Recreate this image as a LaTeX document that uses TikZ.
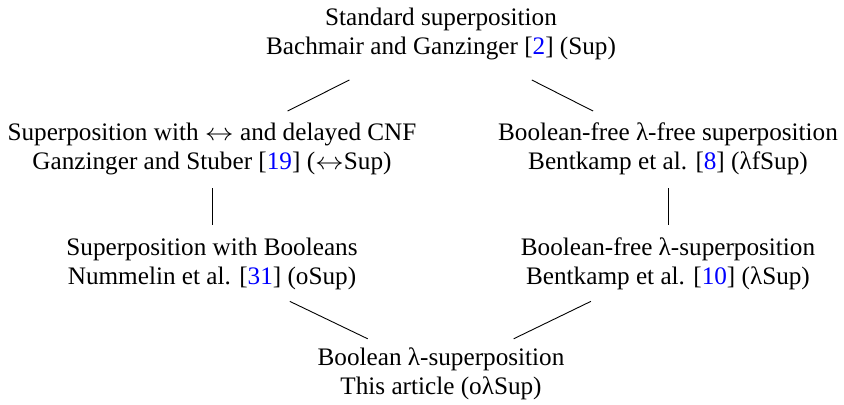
\documentclass[tikz,border=0pt]{standalone}
\usepackage{fontspec}
\setmainfont{Liberation Serif}
\usetikzlibrary{calc}
\begin{document}
\begin{tikzpicture}[x=0.5pt,y=-0.5pt,
  lbl/.style={align=center,inner sep=0pt,font=\fontsize{12.6}{14.5}\selectfont},
  conn/.style={line width=0.45pt}]
\useasboundingbox (0,0) rectangle (844,405);
\newcommand{\cit}[1]{[\textcolor{blue}{#1}]}
\newcommand{\lra}{\scalebox{1.2}[1]{$\leftrightarrow$}}
\node[lbl] (top) at (441,34) {Standard superposition\\Bachmair and Ganzinger \cit{2} (Sup)};
\node[lbl] (lm) at (212,149) {Superposition with \lra\ and delayed CNF\\Ganzinger and Stuber \cit{19} (\lra Sup)};
\node[lbl] (rm) at (668,149) {Boolean-free λ-free superposition\\Bentkamp et al. \cit{8} (λfSup)};
\node[lbl] (ll) at (212,264) {Superposition with Booleans\\Nummelin et al. \cit{31} (oSup)};
\node[lbl] (rl) at (668,264) {Boolean-free λ-superposition\\Bentkamp et al. \cit{10} (λSup)};
\node[lbl] (bot) at (441,374) {Boolean λ-superposition\\This article (oλSup)};
\draw[conn] ($(top)!0.40!(lm)$) -- ($(top)!0.67!(lm)$);
\draw[conn] ($(top)!0.40!(rm)$) -- ($(top)!0.67!(rm)$);
\draw[conn] ($(lm)!0.34!(ll)$) -- ($(lm)!0.66!(ll)$);
\draw[conn] ($(rm)!0.34!(rl)$) -- ($(rm)!0.66!(rl)$);
\draw[conn] ($(ll)!0.34!(bot)$) -- ($(ll)!0.68!(bot)$);
\draw[conn] ($(rl)!0.34!(bot)$) -- ($(rl)!0.68!(bot)$);
\end{tikzpicture}
\end{document}
